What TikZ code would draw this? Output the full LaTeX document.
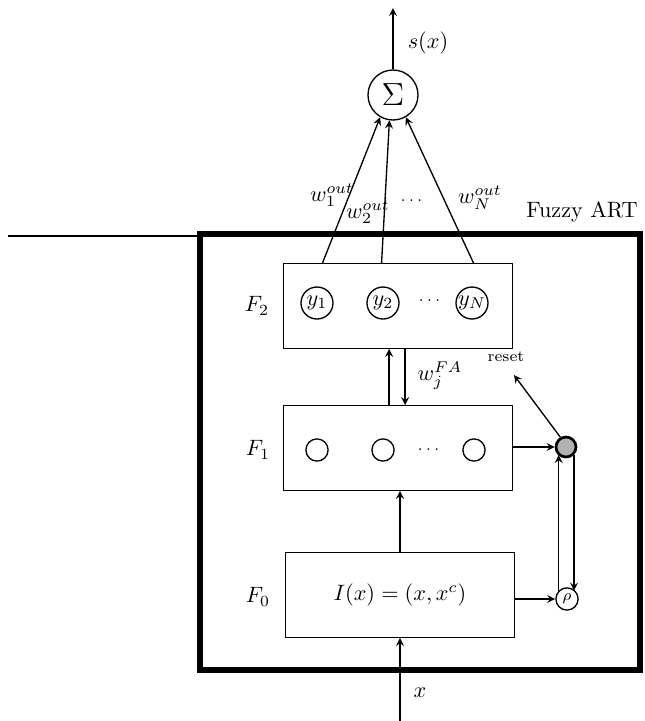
\documentclass[tikz,border=0pt]{standalone}
\usepackage{amsmath}
\usepackage{amssymb}
\usepackage{tikz}
\usetikzlibrary{arrows, positioning}

\begin{document}
\begin{tikzpicture}[
    x=0.45pt, y=-0.45pt,
    layer/.style={rectangle, draw, line width=0.6pt, minimum width=103pt, minimum height=38pt, inner sep=0pt},
    unit/.style={circle, draw, line width=0.6pt, minimum size=14.4pt, inner sep=0pt},
    smallunit/.style={circle, draw, line width=0.6pt, minimum size=10pt, inner sep=0pt},
    artbox/.style={rectangle, draw, line width=2.7pt, minimum width=198pt, minimum height=196pt},
    arrow/.style={->, line width=0.6pt, >=stealth}
]
    \useasboundingbox (0,0) rectangle (645,721);

    % outer Fuzzy ART box
    \node[artbox] (art) at (420,452) {};
    \node (artlabel) at (582,212) {Fuzzy ART};
    \coordinate (linestart) at (8,236);
    \draw[line width=0.6pt] (linestart) -- (art.west |- linestart);

    % layers
    \node[layer] (f2) at (398,306) {};
    \node[layer] (f1) at (398,448) {};
    \node[layer] (f0) at (400,595) {$I(x)=(x,x^c)$\hspace{10pt}};
    \node (f2label) at (257,306) {$F_2$};
    \node (f1label) at (258,450) {$F_1$};
    \node (f0label) at (258,597) {$F_0$};

    % units in F2 and F1
    \node[unit] (y1) at (317,303) {$y_1$};
    \node[unit] (y2) at (383,303) {$y_2$};
    \node[unit] (yN) at (472,303) {$y_N$};
    \node[font=\scriptsize] (f2dots) at (431,301) {$\cdots$};
    \node[smallunit] (u1) at (317,450) {};
    \node[smallunit] (u2) at (383,450) {};
    \node[smallunit] (uN) at (474,450) {};
    \node[font=\scriptsize] (f1dots) at (430,450) {$\cdots$};

    % summing unit
    \node[circle, draw, line width=0.6pt, minimum size=22.5pt, inner sep=0pt, font=\Large] (sum) at (393,95) {$\Sigma$};
    \coordinate (output) at (393,8);
    \node (sx) at (428,43) {$s(x)$};
    \draw[arrow] (sum) -- (output);

    \draw[arrow] ([xshift=-34pt]f2.north) -- (sum.240);
    \draw[arrow] ([xshift=-7.4pt]f2.north) -- (sum.262);
    \draw[arrow] ([xshift=34pt]f2.north) -- (sum.300);
    \node (w1) at (332,195) {$w_1^{out}$};
    \node (w2) at (368,212) {$w_2^{out}$};
    \node[font=\scriptsize] (wdots) at (413,201) {$\cdots$};
    \node (wN) at (480,198) {$w_N^{out}$};

    % F1 <-> F2
    \draw[arrow] ([xshift=-4pt]f1.north) -- ([xshift=-4pt]f2.south);
    \draw[arrow] ([xshift=3.2pt]f2.south) -- ([xshift=3.2pt]f1.north);
    \node (wfa) at (440,376) {$w_j^{FA}$};

    % F0 -> F1, input
    \draw[arrow] (f0.north) -- (f0.north |- f1.south);
    \coordinate (input) at (400,721);
    \draw[arrow] (input) -- (f0);
    \node (xlabel) at (420,693) {$x$};

    % vigilance and reset
    \node[circle, draw, line width=1.2pt, fill=gray!60, minimum size=9pt, inner sep=0pt] (reset) at (566,447) {};
    \node[smallunit, font=\scriptsize] (rho) at (567,599) {$\rho$};
    \draw[arrow] (f1.east |- reset) -- (reset);
    \draw[arrow] (f0.east |- rho) -- (rho);
    \draw[arrow] (rho.135) -- (rho.135 |- reset.225);
    \draw[arrow] (reset.-45) -- (reset.-45 |- rho.45);
    \coordinate (resetend) at (514,375);
    \draw[arrow] (reset.120) -- (resetend);
    \node[font=\scriptsize] (resetlabel) at (506,357) {reset};
\end{tikzpicture}
\end{document}
